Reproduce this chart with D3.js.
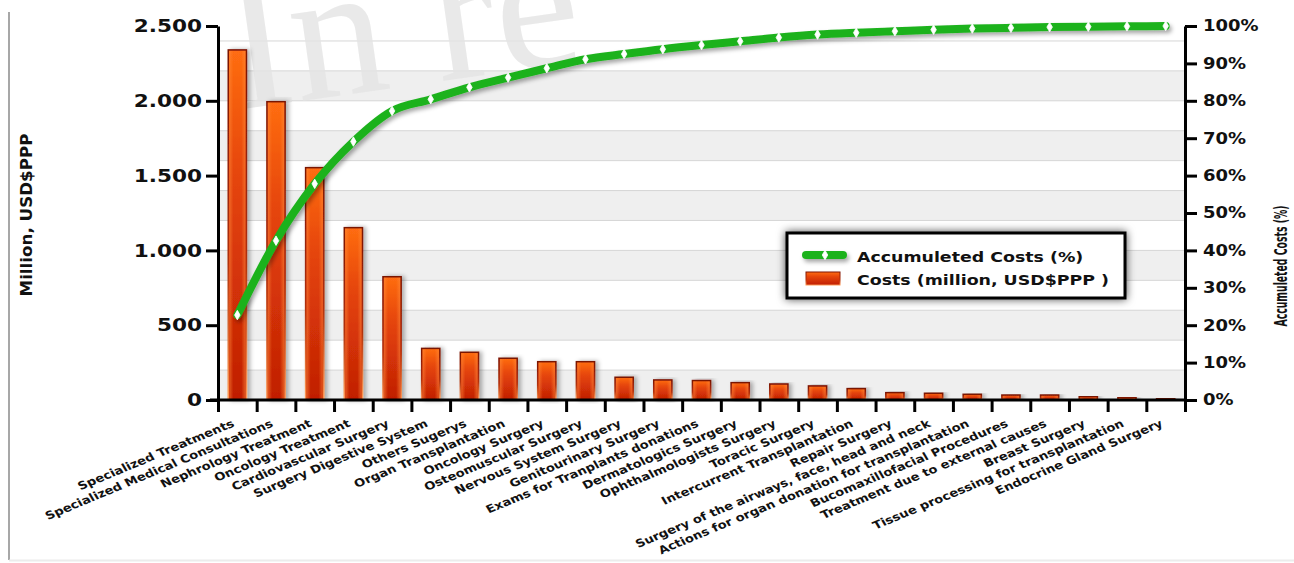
<!DOCTYPE html>
<html>
<head>
<meta charset="utf-8">
<script src="https://cdn.jsdelivr.net/npm/d3@7"></script>
<style>
  html, body { margin: 0; padding: 0; background: #fff; }
  svg { display: block; }
  text { font-family: "DejaVu Sans", sans-serif; font-weight: bold; }
</style>
</head>
<body>
<svg id="chart" width="1294" height="563"></svg>
<script>
const categories = [
  "Specialized Treatments",
  "Specialized Medical Consultations",
  "Nephrology Treatment",
  "Oncology Treatment",
  "Cardiovascular Surgery",
  "Surgery Digestive System",
  "Others Sugerys",
  "Organ Transplantation",
  "Oncology Surgery",
  "Osteomuscular Surgery",
  "Nervous System Surgery",
  "Genitourinary Surgery",
  "Exams for Tranplants donations",
  "Dermatologics Surgery",
  "Ophthalmologists Surgery",
  "Toracic Surgery",
  "Intercurrent Transplantation",
  "Repair Surgery",
  "Surgery of the airways, face, head and neck",
  "Actions for organ donation for transplantation",
  "Bucomaxillofacial Procedures",
  "Treatment due to external causes",
  "Breast Surgery",
  "Tissue processing for transplantation",
  "Endocrine Gland Surgery"
];
const costs = [2340, 1994, 1553, 1152, 824, 345, 319, 279, 256, 256, 152, 134, 130, 116, 107, 94, 76, 49, 45, 38, 33, 33, 22, 18, 11];
const accumulated = [22.7, 42.6, 57.8, 69.1, 77.3, 80.4, 83.6, 86.2, 88.7, 91.1, 92.5, 93.8, 94.9, 95.9, 96.9, 97.7, 98.2, 98.6, 99.0, 99.3, 99.5, 99.7, 99.8, 99.9, 100];
const leftTicks = [0, 500, 1000, 1500, 2000, 2500];
const rightTicks = [0, 10, 20, 30, 40, 50, 60, 70, 80, 90, 100];
const leftTitle = "Million, USD$PPP";
const rightTitle = "Accumuleted Costs (%)";
const legendLabels = ["Accumuleted Costs (%)", "Costs (million, USD$PPP )"];
const watermark = "In re";

const svg = d3.select("#chart");
const W = 1294, H = 563;
const L = 218, R = 1185, T = 26, B = 400;
const SX = 1.2;

const locale = d3.formatLocale({decimal: ",", thousands: ".", grouping: [3], currency: ["", ""]});
const fmt = locale.format(",");

const x = d3.scaleBand().domain(categories).range([L, R]);
const xi = d3.scaleLinear().domain([0, categories.length]).range([L, R]);
const y = d3.scaleLinear().domain([0, 2500]).range([B, T]);
const yR = d3.scaleLinear().domain([0, 100]).range([B, T]);

const defs = svg.append("defs");
const bg = defs.append("linearGradient").attr("id", "barGrad").attr("x1", 0).attr("y1", 0).attr("x2", 0).attr("y2", 1);
bg.append("stop").attr("offset", "0%").attr("stop-color", "#ff6d12");
bg.append("stop").attr("offset", "35%").attr("stop-color", "#e6460a");
bg.append("stop").attr("offset", "100%").attr("stop-color", "#c01e04");
const bh = defs.append("linearGradient").attr("id", "barGradH").attr("x1", 0).attr("y1", 0).attr("x2", 1).attr("y2", 0);
bh.append("stop").attr("offset", "0%").attr("stop-color", "#ff8a3a").attr("stop-opacity", 0.55);
bh.append("stop").attr("offset", "25%").attr("stop-color", "#ff8a3a").attr("stop-opacity", 0);
bh.append("stop").attr("offset", "75%").attr("stop-color", "#ff8a3a").attr("stop-opacity", 0);
bh.append("stop").attr("offset", "100%").attr("stop-color", "#ff8a3a").attr("stop-opacity", 0.55);
const sg = defs.append("linearGradient").attr("id", "barStroke").attr("x1", 0).attr("y1", 0).attr("x2", 0).attr("y2", 1);
sg.append("stop").attr("offset", "0%").attr("stop-color", "#7a1204");
sg.append("stop").attr("offset", "60%").attr("stop-color", "#b0300a");
sg.append("stop").attr("offset", "100%").attr("stop-color", "#ff9a55");

const fBar = defs.append("filter").attr("id", "barShadow").attr("x", "-30%").attr("y", "-10%").attr("width", "180%").attr("height", "120%");
fBar.append("feDropShadow").attr("dx", 3).attr("dy", 0).attr("stdDeviation", 2).attr("flood-color", "#000").attr("flood-opacity", 0.3);
const fLine = defs.append("filter").attr("id", "lineShadow").attr("filterUnits", "userSpaceOnUse")
  .attr("x", 0).attr("y", 0).attr("width", W).attr("height", H);
fLine.append("feDropShadow").attr("dx", 2).attr("dy", 3).attr("stdDeviation", 2).attr("flood-color", "#000").attr("flood-opacity", 0.35);
const fLeg = defs.append("filter").attr("id", "legShadow").attr("x", "-10%").attr("y", "-30%").attr("width", "120%").attr("height", "160%");
fLeg.append("feDropShadow").attr("dx", 0).attr("dy", 0).attr("stdDeviation", 4).attr("flood-color", "#000").attr("flood-opacity", 0.7);

// frame lines of the picture
svg.append("line").attr("x1", 9).attr("x2", 9).attr("y1", 12).attr("y2", 560).attr("stroke", "#8a8a8a").attr("stroke-width", 1.5);
svg.append("line").attr("x1", 9).attr("x2", W).attr("y1", 560.5).attr("y2", 560.5).attr("stroke", "#ececec").attr("stroke-width", 2);

// alternating bands and grid
const gridVals = y.ticks(10);
const bands = gridVals.slice(0, -1).map((v, i) => ({lo: v, hi: gridVals[i + 1], i}));
svg.append("g").selectAll("rect").data(bands.filter(d => d.i % 2 === 0)).join("rect")
  .attr("x", L).attr("width", R - L)
  .attr("y", d => y(d.hi)).attr("height", d => y(d.lo) - y(d.hi))
  .attr("fill", "#efefef");
svg.append("g").selectAll("line").data(gridVals).join("line")
  .attr("x1", L).attr("x2", R).attr("y1", d => y(d)).attr("y2", d => y(d))
  .attr("stroke", "#d6d6d6").attr("stroke-width", 1);

// watermark (partly outside the picture in the original)
svg.append("text")
  .attr("transform", "translate(236,110) rotate(-8)")
  .style("font-family", "'Liberation Serif', serif").style("font-weight", "normal")
  .attr("font-size", 190).attr("fill", "#e3e3e3").attr("fill-opacity", 0.8)
  .text(watermark);

// bars
const barW = x.bandwidth() * 0.47;
const gBars = svg.append("g");
gBars.selectAll("rect.bar").data(costs).join("rect").attr("class", "bar")
  .attr("x", (d, i) => x(categories[i]) + (x.bandwidth() - barW) / 2)
  .attr("y", d => y(d))
  .attr("width", barW)
  .attr("height", d => B - y(d))
  .attr("fill", "url(#barGrad)")
  .attr("stroke", "url(#barStroke)")
  .attr("stroke-width", 1.5)
  .attr("filter", "url(#barShadow)");
gBars.selectAll("rect.hl").data(costs).join("rect").attr("class", "hl")
  .attr("x", (d, i) => x(categories[i]) + (x.bandwidth() - barW) / 2 + 1)
  .attr("y", d => y(d) + 1)
  .attr("width", barW - 2)
  .attr("height", d => Math.max(0, B - y(d) - 2))
  .attr("fill", "url(#barGradH)");

// axes
function styleAxis(g) {
  g.selectAll("path.domain").attr("stroke", "#000").attr("stroke-width", 3);
  g.selectAll(".tick line").attr("stroke", "#000").attr("stroke-width", 3);
}
const gL = svg.append("g").attr("transform", `translate(${L},0)`)
  .call(d3.axisLeft(y).tickValues(leftTicks).tickFormat(fmt).tickSize(12).tickSizeOuter(0).tickPadding(4));
styleAxis(gL);
gL.selectAll(".tick text").attr("font-size", 18).attr("fill", "#111")
  .attr("x", -16 / SX).attr("transform", `scale(${SX},1)`);

const gR = svg.append("g").attr("transform", `translate(${R},0)`)
  .call(d3.axisRight(yR).tickValues(rightTicks).tickFormat(d => d + "%").tickSize(12).tickSizeOuter(0).tickPadding(5));
styleAxis(gR);
gR.selectAll(".tick text").attr("font-size", 15).attr("fill", "#111")
  .attr("x", 18 / SX).attr("transform", `scale(${SX},1)`);

const gBt = svg.append("g").attr("transform", `translate(0,${B})`)
  .call(d3.axisBottom(xi).tickValues(d3.range(categories.length + 1)).tickFormat("").tickSize(12).tickSizeOuter(0));
styleAxis(gBt);
gBt.select("path.domain").attr("d", `M${L - 8},0H${R}`);

const gBl = svg.append("g").attr("transform", `translate(0,${B})`)
  .call(d3.axisBottom(x).tickSize(0));
gBl.select("path.domain").remove();
gBl.selectAll(".tick text")
  .attr("font-size", 11).attr("fill", "#111")
  .attr("x", 0).attr("y", 0).attr("dy", null)
  .attr("text-anchor", "end")
  .attr("transform", `translate(-2,26) scale(${SX},1) rotate(-26.5)`);

// axis titles
svg.append("text").attr("transform", "translate(32,215) rotate(-90)")
  .attr("text-anchor", "middle").attr("font-size", 15).attr("fill", "#111")
  .attr("textLength", 163).attr("lengthAdjust", "spacingAndGlyphs")
  .text(leftTitle);
const rt = svg.append("text")
  .attr("text-anchor", "middle").attr("font-size", 14).attr("fill", "#111")
  .text(rightTitle);
const rtLen = rt.node().getComputedTextLength();
const rtK = 121 / rtLen;
rt.attr("transform", `translate(1287,266) scale(${SX},${rtK}) rotate(-90)`);

// cumulative line
const pts = accumulated.map((v, i) => [x(categories[i]) + x.bandwidth() / 2, yR(v)]);
const lineGen = d3.line().curve(d3.curveMonotoneX);
svg.append("path").attr("d", lineGen(pts))
  .attr("fill", "none").attr("stroke", "#1fb21f").attr("stroke-width", 8)
  .attr("stroke-linejoin", "round").attr("stroke-linecap", "round")
  .attr("filter", "url(#lineShadow)");
const sym = d3.symbol().type(d3.symbolDiamond).size(26);
svg.append("g").selectAll("path").data(pts).join("path")
  .attr("transform", d => `translate(${d[0]},${d[1]})`)
  .attr("d", sym).attr("fill", "#fff").attr("stroke", "#fff").attr("stroke-width", 0.8);

// legend
const lg = svg.append("g");
lg.append("rect").attr("x", 787).attr("y", 233).attr("width", 338).attr("height", 65)
  .attr("fill", "#fff").attr("stroke", "#000").attr("stroke-width", 3).attr("filter", "url(#legShadow)");
lg.append("path").attr("d", "M806,255H843")
  .attr("stroke", "#1fb21f").attr("stroke-width", 8).attr("stroke-linecap", "round").attr("fill", "none")
  .attr("filter", "url(#lineShadow)");
lg.append("path").attr("transform", "translate(825,255)").attr("d", sym).attr("fill", "#fff").attr("stroke", "#fff").attr("stroke-width", 0.8);
lg.append("rect").attr("x", 806).attr("y", 272).attr("width", 34).attr("height", 13)
  .attr("fill", "url(#barGrad)").attr("stroke", "url(#barStroke)").attr("stroke-width", 1);
lg.selectAll("text").data(legendLabels).join("text")
  .attr("x", 857 / SX).attr("y", (d, i) => 262 + i * 23)
  .attr("transform", `scale(${SX},1)`)
  .attr("font-size", 14.5).attr("fill", "#111")
  .text(d => d);
</script>
</body>
</html>
